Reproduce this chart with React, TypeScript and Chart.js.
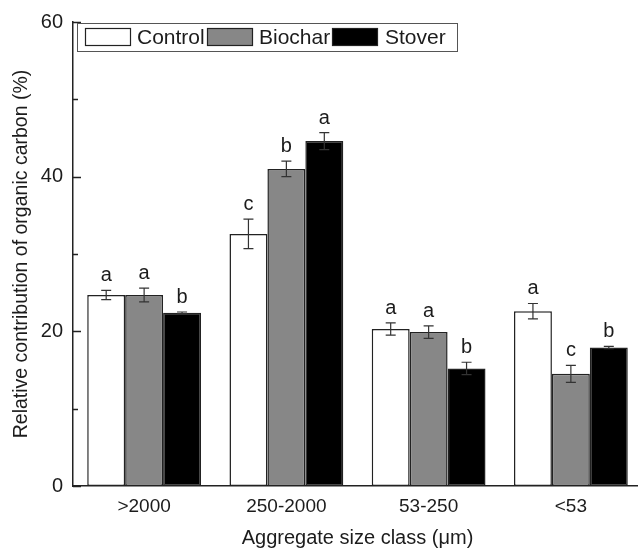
import React, { useEffect, useRef } from 'react';
import { Chart, registerables } from 'chart.js';
Chart.register(...registerables);

const categories = ['>2000', '250-2000', '53-250', '<53'];
const seriesNames = ['Control', 'Biochar', 'Stover'];
const controlValues = [24.7, 32.6, 20.3, 22.6];
const controlErrors = [0.6, 1.9, 0.8, 1.0];
const controlLetters = ['a', 'c', 'a', 'a'];
const biocharValues = [24.7, 41.0, 19.9, 14.5];
const biocharErrors = [0.9, 1.0, 0.8, 1.1];
const biocharLetters = ['a', 'b', 'a', 'c'];
const stoverValues = [22.4, 44.6, 15.2, 17.9];
const stoverErrors = [0.1, 1.1, 0.8, 0.15];
const stoverLetters = ['b', 'a', 'b', 'b'];
const yTickValues = [0, 10, 20, 30, 40, 50, 60];

const FONT = '"Liberation Sans", Arial, sans-serif';
const TEXT = '#1c1c1c';
const fills = ['#ffffff', '#878787', '#000000'];
const errors = [controlErrors, biocharErrors, stoverErrors];
const letters = [controlLetters, biocharLetters, stoverLetters];

const extrasPlugin = {
  id: 'extras',
  afterDatasetsDraw(chart: any) {
    const ctx = chart.ctx;
    const y = chart.scales.y;
    ctx.save();
    chart.data.datasets.forEach((ds: any, di: number) => {
      const meta = chart.getDatasetMeta(di);
      meta.data.forEach((bar: any, i: number) => {
        const v = ds.data[i];
        const e = errors[di][i];
        const yTop = y.getPixelForValue(v + e);
        const yBot = y.getPixelForValue(v - e);
        const x = bar.x;
        ctx.strokeStyle = '#333';
        ctx.lineWidth = 1.2;
        ctx.beginPath();
        ctx.moveTo(x, yTop);
        ctx.lineTo(x, yBot);
        ctx.moveTo(x - 5, yTop);
        ctx.lineTo(x + 5, yTop);
        ctx.moveTo(x - 5, yBot);
        ctx.lineTo(x + 5, yBot);
        ctx.stroke();
        ctx.fillStyle = TEXT;
        ctx.font = `20px ${FONT}`;
        ctx.textAlign = 'center';
        ctx.textBaseline = 'alphabetic';
        ctx.fillText(letters[di][i], x, yTop - 9);
      });
    });
    ctx.restore();
  },
  afterDraw(chart: any) {
    const ctx = chart.ctx;
    const y = chart.scales.y;
    const left = chart.chartArea.left;
    ctx.save();
    ctx.strokeStyle = '#222';
    ctx.lineWidth = 1.5;
    ctx.beginPath();
    yTickValues.forEach((v) => {
      const py = Math.round(y.getPixelForValue(v)) + 0.5;
      const len = v % 20 === 0 ? 8 : 5;
      ctx.moveTo(left, py);
      ctx.lineTo(left + len, py);
    });
    ctx.stroke();

    // legend
    const lx = 77, ly = 23, lw = 380, lh = 28;
    ctx.fillStyle = '#ffffff';
    ctx.fillRect(lx, ly, lw, lh);
    ctx.strokeStyle = '#555';
    ctx.lineWidth = 1;
    ctx.strokeRect(lx + 0.5, ly + 0.5, lw, lh);
    const swatches = [
      { x: 85, tx: 137 },
      { x: 207, tx: 259 },
      { x: 332, tx: 385 },
    ];
    ctx.font = `21px ${FONT}`;
    ctx.textAlign = 'left';
    ctx.textBaseline = 'middle';
    swatches.forEach((s, i) => {
      ctx.fillStyle = fills[i];
      ctx.fillRect(s.x, 28, 46, 18);
      ctx.strokeStyle = '#222';
      ctx.lineWidth = 1.2;
      ctx.strokeRect(s.x + 0.5, 28.5, 45, 17);
      ctx.fillStyle = TEXT;
      ctx.fillText(seriesNames[i], s.tx, 38);
    });
    ctx.restore();
  },
};

export default function App() {
  const ref = useRef<HTMLCanvasElement>(null);
  useEffect(() => {
    const chart = new Chart(ref.current as HTMLCanvasElement, {
      type: 'bar',
      data: {
        labels: categories,
        datasets: [
          { label: seriesNames[0], data: controlValues },
          { label: seriesNames[1], data: biocharValues },
          { label: seriesNames[2], data: stoverValues },
        ].map((d, i) => ({
          ...d,
          backgroundColor: fills[i],
          borderColor: '#222',
          borderWidth: 1.5,
          borderSkipped: false,
          categoryPercentage: 0.8,
          barPercentage: 1.0,
        })),
      },
      options: {
        responsive: false,
        animation: false,
        devicePixelRatio: 1,
        layout: { padding: { top: 22, right: 3, left: 0, bottom: 0 } },
        plugins: { legend: { display: false }, tooltip: { enabled: false } },
        scales: {
          x: {
            grid: { display: false, drawTicks: false },
            border: { display: true, color: '#222', width: 1.5 },
            ticks: { color: TEXT, font: { family: FONT, size: 19 }, padding: 9 },
            title: {
              display: true,
              text: 'Aggregate size class (μm)',
              color: TEXT,
              font: { family: FONT, size: 20 },
              padding: { top: 0, bottom: 1 },
            },
            afterFit(scale: any) {
              scale.height = 65;
            },
          },
          y: {
            min: 0,
            max: 60,
            grid: { display: false, drawTicks: false },
            border: { display: true, color: '#222', width: 1.5 },
            ticks: { stepSize: 20, color: TEXT, font: { family: FONT, size: 20 }, padding: 10 },
            title: {
              display: true,
              text: 'Relative contribution of organic carbon (%)',
              color: TEXT,
              font: { family: FONT, size: 19.5 },
              padding: { top: 10, bottom: 0 },
            },
            afterFit(scale: any) {
              scale.width = 73;
            },
          },
        },
      } as any,
      plugins: [extrasPlugin],
    });
    return () => chart.destroy();
  }, []);
  return (
    <div
      style={{
        position: 'fixed',
        left: 0,
        top: 0,
        width: 638,
        height: 551,
        overflow: 'hidden',
        background: '#ffffff',
      }}
    >
      <canvas ref={ref} width={645} height={551} style={{ display: 'block' }} />
    </div>
  );
}
